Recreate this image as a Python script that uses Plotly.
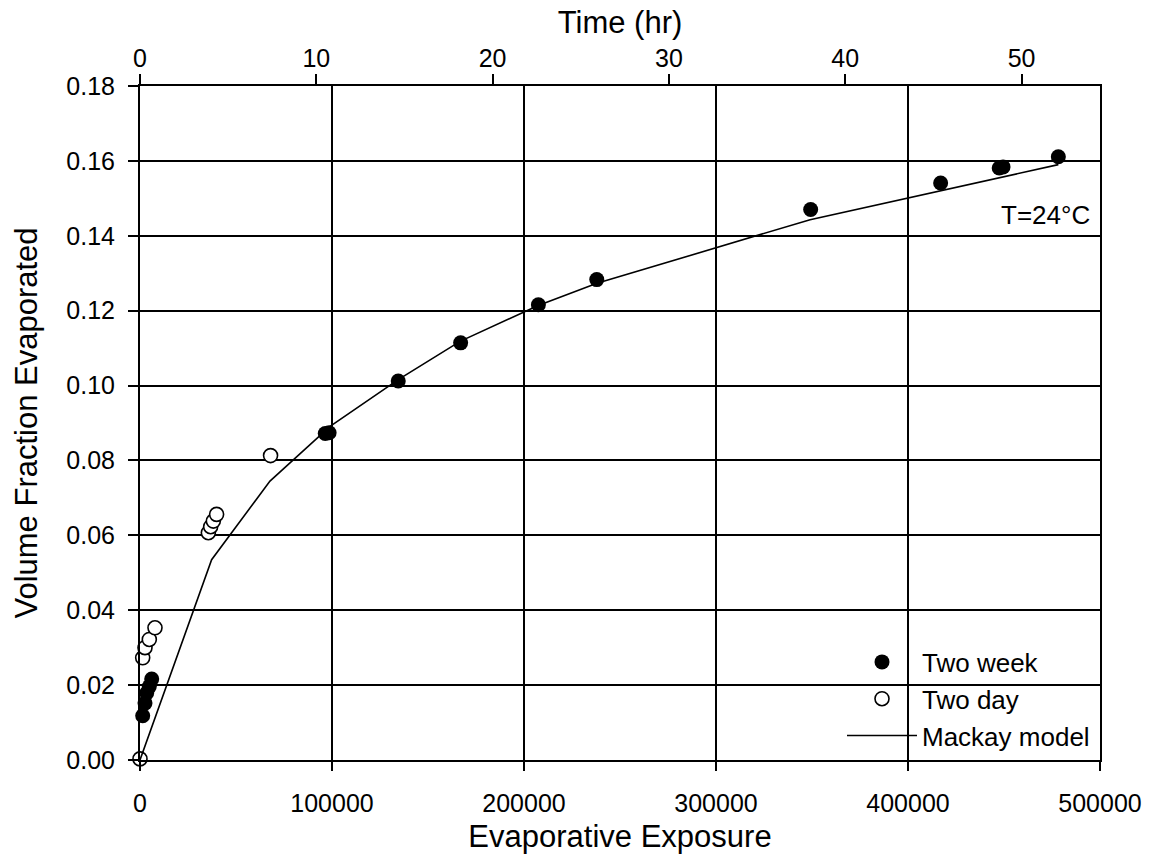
import plotly.graph_objects as go

# ---- data ----
week_x = [1400, 2600, 3500, 4850, 6100, 96500, 98500, 134500, 167000, 207500,
          237900, 349300, 417000, 447500, 449500, 478300]
week_y = [0.0118, 0.0152, 0.0179, 0.0196, 0.0216, 0.0872, 0.0874, 0.1012, 0.1114,
          0.1216, 0.1283, 0.1470, 0.1541, 0.1581, 0.1584, 0.1611]

day_x = [0, 1400, 2600, 4850, 7800, 35600, 36800, 38200, 39900, 68000]
day_y = [0.0003, 0.0273, 0.0300, 0.0322, 0.0353, 0.0607, 0.0623, 0.0638, 0.0656, 0.0813]

model_x = [0, 37300, 67700, 99000, 134500, 166700, 207400, 238000, 349000, 478300]
model_y = [0.0, 0.0535, 0.0745, 0.0891, 0.1016, 0.1118, 0.1214, 0.1273, 0.1443, 0.1590]

x_ticks = [0, 100000, 200000, 300000, 400000, 500000]
y_ticks = [0.00, 0.02, 0.04, 0.06, 0.08, 0.10, 0.12, 0.14, 0.16, 0.18]
time_ticks = [0, 10, 20, 30, 40, 50]
time_max = 54.45

FONT = "Liberation Sans, Arial, sans-serif"

fig = go.Figure()
fig.add_trace(go.Scatter(
    x=week_x, y=week_y, mode="markers", name="Two week", legendgroup="a",
    marker=dict(symbol="circle", size=15, color="black", line=dict(width=0)),
    cliponaxis=False))
fig.add_trace(go.Scatter(
    x=day_x, y=day_y, mode="markers", name="Two day", legendgroup="b",
    marker=dict(symbol="circle", size=14, color="white", line=dict(width=1.6, color="black")),
    cliponaxis=False))
fig.add_trace(go.Scatter(
    x=model_x, y=model_y, mode="lines", name="Mackay model", legendgroup="c",
    line=dict(color="black", width=1.6)))
# carrier for the secondary (time) axis on top; draws nothing
fig.add_trace(go.Scatter(
    x=time_ticks, y=[None] * len(time_ticks), xaxis="x2", yaxis="y",
    mode="markers", showlegend=False, hoverinfo="skip"))

axis_common = dict(
    showline=True, linecolor="black", linewidth=2,
    ticks="outside", tickcolor="black", tickwidth=2,
    tickfont=dict(family=FONT, size=25, color="black"),
    zeroline=False, automargin=False,
)

fig.update_layout(
    width=1149, height=854,
    margin=dict(l=140, r=49, t=86, b=94),
    paper_bgcolor="white", plot_bgcolor="white",
    font=dict(family=FONT, color="black"),
    showlegend=True,
    legend=dict(
        x=(842 - 140) / 960, y=(760.5 - 639) / 674, xanchor="left", yanchor="top",
        bgcolor="rgba(0,0,0,0)", borderwidth=0,
        font=dict(family=FONT, size=26, color="black"),
        itemwidth=70, tracegroupgap=0, traceorder="grouped",
    ),
    xaxis=dict(
        **axis_common,
        range=[0, 500000], tickvals=x_ticks, tickformat="d",
        ticklen=9, ticklabelstandoff=11,
        showgrid=True, gridcolor="black", gridwidth=2,
        mirror=True,
        title=dict(text="Evaporative Exposure", font=dict(family=FONT, size=31, color="black"),
                   standoff=15),
    ),
    yaxis=dict(
        **axis_common,
        range=[0, 0.18], tickvals=y_ticks, tickformat=".2f",
        ticklen=10, ticklabelstandoff=8,
        showgrid=True, gridcolor="black", gridwidth=2,
        mirror=True,
        title=dict(text="Volume Fraction Evaporated", font=dict(family=FONT, size=31, color="black"),
                   standoff=19),
    ),
    xaxis2=dict(
        **axis_common,
        overlaying="x", side="top", anchor="y",
        range=[0, time_max], tickvals=time_ticks,
        ticklen=10, ticklabelstandoff=-3,
        showgrid=False,
        title=dict(text="Time (hr)", font=dict(family=FONT, size=31, color="black"),
                   standoff=1),
    ),
    annotations=[dict(
        text="T=24°C", xref="x", yref="y", x=500000, y=0.146,
        xanchor="right", yanchor="middle", xshift=-8, yshift=-2, showarrow=False,
        font=dict(family=FONT, size=26, color="black"))],
)

fig.write_html("out.html")
